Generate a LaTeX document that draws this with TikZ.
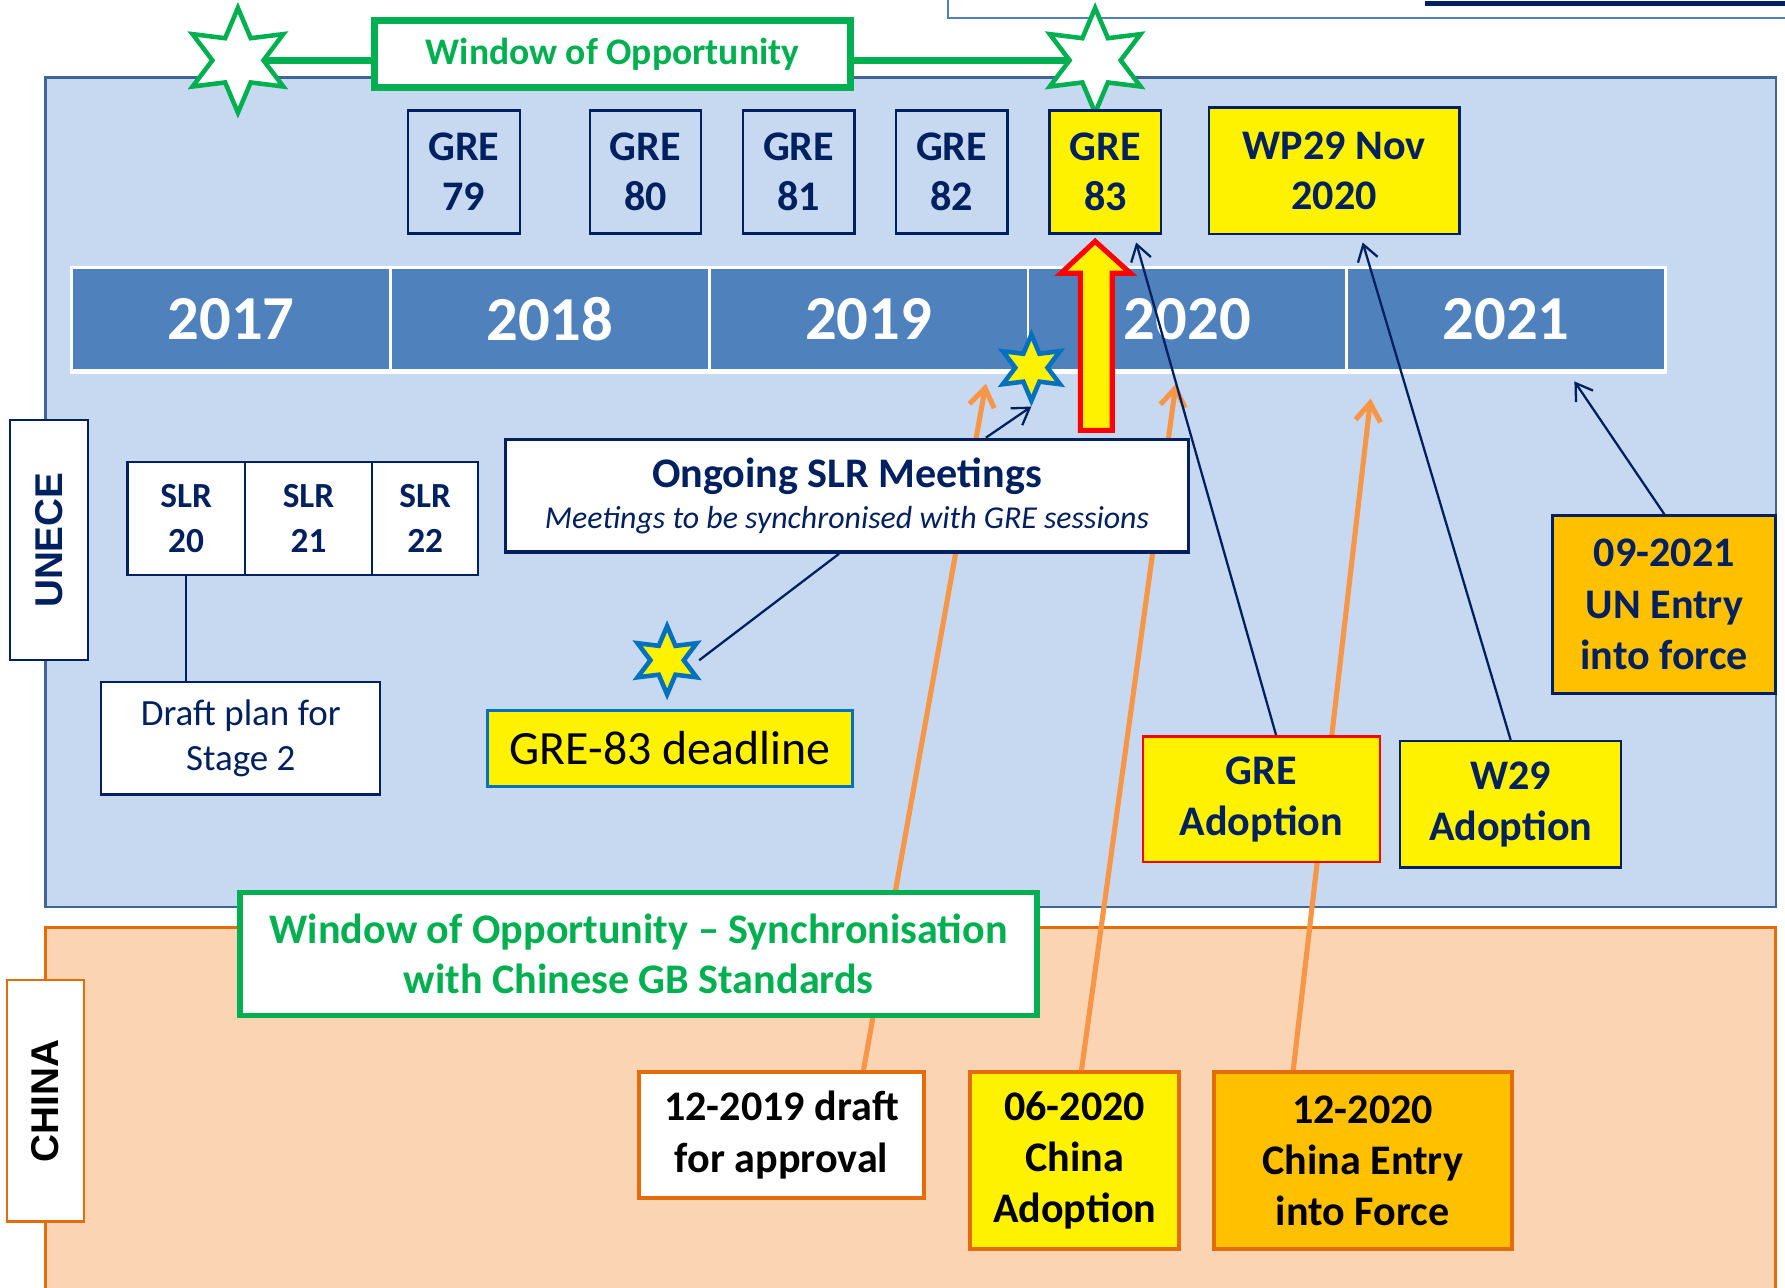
\documentclass[tikz,border=0pt]{standalone}
\usepackage{fontspec}
\setmainfont{Carlito}
\newfontfamily\sidefont{Liberation Sans}
\usetikzlibrary{shapes.geometric,arrows.meta,positioning}

\definecolor{navy}{RGB}{0,32,96}
\definecolor{paneblue}{RGB}{198,217,240}
\definecolor{paneedge}{RGB}{65,100,150}
\definecolor{yearblue}{RGB}{79,129,189}
\definecolor{peach}{RGB}{251,212,180}
\definecolor{chinaedge}{RGB}{228,108,10}
\definecolor{linkorange}{RGB}{247,150,70}
\definecolor{wingreen}{RGB}{0,176,80}
\definecolor{gold}{RGB}{255,192,0}
\definecolor{starblue}{RGB}{0,112,192}

\pgfdeclarelayer{back}
\pgfdeclarelayer{links}
\pgfsetlayers{back,links,main}

\tikzstyle{box}=[rectangle, inner sep=0pt, align=center]
\tikzstyle{gre}=[box,
    draw=navy,
    line width=2pt,
    fill=paneblue,
    text=navy,
    minimum width=98pt,
    minimum height=108pt,
    font=\bfseries\fontsize{37}{44}\selectfont]
\tikzstyle{slr}=[box, draw=navy, line width=2pt, fill=white, text=navy,
    minimum height=99pt, font=\bfseries\fontsize{31}{39}\selectfont]
\tikzstyle{adopt}=[box, draw=navy, line width=2pt, fill=yellow, text=navy,
    font=\bfseries\fontsize{37}{45}\selectfont]
\tikzstyle{china}=[box, draw=chinaedge, line width=3.5pt, text=black,
    minimum height=155pt, font=\bfseries\fontsize{37}{45}\selectfont]
\tikzstyle{yearcell}=[box, draw=white, line width=2.5pt, fill=yearblue, text=white,
    minimum width=280pt, minimum height=90pt, font=\bfseries\fontsize{55}{60}\selectfont]
\tikzstyle{window}=[box, draw=wingreen, fill=white, text=wingreen,
    font=\bfseries\fontsize{37}{44}\selectfont]
\tikzstyle{side}=[box, line width=2pt, fill=white, minimum width=68pt,
    font=\sidefont\bfseries\fontsize{34}{34}\selectfont]
\tikzstyle{hexstar}=[star, star points=6, star point ratio=2.05, inner sep=0pt, line width=4pt]
\tikzstyle{navylink}=[draw=navy, line width=2pt, -{Straight Barb[length=14pt,width=18pt]}]
\tikzstyle{orangelink}=[draw=linkorange, line width=4.5pt, -{Straight Barb[length=16pt,width=22pt]}]

\begin{document}
\begin{tikzpicture}[x=1pt, y=-1pt]
    \useasboundingbox (0,0) rectangle (1568,1131);

    % panels and year bar
    \begin{pgfonlayer}{back}
        \draw[fill=paneblue, draw=paneedge, line width=2pt] (40,68) rectangle (1560,797);
        \draw[fill=peach, draw=chinaedge, line width=2.5pt] (40,815) rectangle (1560,1145);
        \draw[fill=white, draw=yearblue, line width=2pt] (833,-10) rectangle (1572,16);
        \draw[navy, line width=4pt] (1252,3) -- (1572,3);
        \foreach \yr [count=\i from 0] in {2017,2018,2019,2020,2021}
            \node (y\yr) [yearcell] at (203+280*\i,280) {\yr};
        \draw[white, line width=5pt] (y2017.south west) -- (y2021.south east);
    \end{pgfonlayer}

    % window of opportunity
    \node (woo) [window, line width=6pt, minimum width=418pt, minimum height=59pt,
        font=\bfseries\fontsize{33}{40}\selectfont] at (538,47.5) {Window of Opportunity};
    \node (lstar) [hexstar, draw=wingreen, fill=white, minimum size=92pt] at (209,53) {};
    \node (rstar) [hexstar, draw=wingreen, fill=white, minimum size=92pt] at (962,53) {};

    % GRE sessions
    \node (gre79) [gre] at (407.5,151) {GRE\\79};
    \node (gre80) [gre] at (567,151) {GRE\\80};
    \node (gre81) [gre] at (701.5,151) {GRE\\81};
    \node (gre82) [gre] at (836,151) {GRE\\82};
    \node (gre83) [gre, fill=yellow] at (971,151) {GRE\\83};
    \node (wp29) [gre, fill=yellow, minimum width=220pt, minimum height=111pt] at (1172,150) {WP29 Nov\\2020};

    % SLR
    \node (slr20) [slr, minimum width=103pt] at (163.5,455.5) {SLR\\20};
    \node (slr21) [slr, minimum width=112pt, right=-2pt of slr20] {SLR\\21};
    \node (slr22) [slr, minimum width=93pt, right=-2pt of slr21] {SLR\\22};
    \node (plan) [box, draw=navy, line width=2pt, fill=white, text=navy, minimum width=245pt,
        minimum height=99pt, font=\fontsize{32.5}{39}\selectfont] at (211.5,648.5) {Draft plan for\\Stage 2};

    \node (ongoing) [box, draw=navy, line width=3pt, fill=white, text=navy, minimum width=600pt,
        minimum height=99pt, font=\fontsize{28}{36}\selectfont] at (744,435.5)
        {{\bfseries\fontsize{37}{36}\selectfont Ongoing SLR Meetings}\\\textit{Meetings to be synchronised with GRE sessions}};
    \node (sstar) [hexstar, draw=starblue, fill=yellow, minimum size=58pt] at (906,323) {};
    \node (dstar) [hexstar, draw=starblue, fill=yellow, minimum size=60pt] at (586,580) {};
    \node (deadline) [box, draw=starblue, line width=3pt, fill=yellow, minimum width=321pt,
        minimum height=67pt, font=\fontsize{42}{46}\selectfont] at (588.5,657.5) {GRE-83 deadline};

    \node (sync) [window, line width=5pt, minimum width=700pt, minimum height=108pt] at (561,838)
        {Window of Opportunity -- Synchronisation\\with Chinese GB Standards};

    \node (greAdopt) [adopt, draw=red, minimum width=208pt, minimum height=110pt] at (1108,702) {GRE\\Adoption};
    \node (w29) [adopt, minimum width=194pt, minimum height=111pt] at (1327,706.5) {W29\\Adoption};
    \node (unEntry) [adopt, fill=gold, line width=2.5pt, minimum width=196pt, minimum height=156pt]
        at (1462,531) {09-2021\\UN Entry\\into force};

    % China
    \node (draft) [china, fill=white, minimum width=251pt, minimum height=110pt] at (686.5,997) {12-2019 draft\\for approval};
    \node (chAdopt) [china, fill=yellow, minimum width=184pt] at (944,1019.5) {06-2020\\China\\Adoption};
    \node (chEntry) [china, fill=gold, minimum width=262pt] at (1197,1019.5) {12-2020\\China Entry\\into Force};

    % side labels
    \node (uneceTag) [side, draw=navy, text=navy, minimum height=211pt] at (43,474.5) {\rotatebox{90}{UNECE}};
    \node (chinaTag) [side, draw=chinaedge, text=black, minimum height=212pt] at (40,967) {\rotatebox{90}{CHINA}};

    % GRE-83 marker
    \draw[fill=yellow, draw=red, line width=4.5pt, line join=miter]
        (949,378) -- (949,240) -- (932,240) -- (962,212) -- (993,240) -- (977,240) -- (977,378) -- cycle;

    \coordinate (tipDraft) at (866,337);
    \coordinate (tipAdopt) at (1033,337);
    \coordinate (tipEntry) at (1204,350);
    \coordinate (tipGre) at (998,213);
    \coordinate (tipWp) at (1197,213);
    \coordinate (tipUn) at (1383,335);

    \begin{pgfonlayer}{links}
        \draw[wingreen, line width=6pt] (lstar) -- (lstar -| woo.west);
        \draw[wingreen, line width=6pt] (rstar) -- (rstar -| woo.east);
        \draw[navy, line width=2pt] (slr20.south) -- (slr20.south |- plan.north);
        \draw[navylink] ([xshift=122pt]ongoing.north) -- (sstar.south);
        \draw[navy, line width=2pt] ([xshift=-7pt]ongoing.south) -- ([xshift=11pt]dstar.east);
        \draw[orangelink] ([xshift=72pt]draft.north) -- (tipDraft);
        \draw[orangelink] ([xshift=6pt]chAdopt.north) -- (tipAdopt);
        \draw[orangelink] ([xshift=-61pt]chEntry.north) -- (tipEntry);
        \draw[navylink] ([xshift=13pt]greAdopt.north) -- (tipGre);
        \draw[navylink] (w29.north) -- (tipWp);
        \draw[navylink] (unEntry.north) -- (tipUn);
    \end{pgfonlayer}
\end{tikzpicture}
\end{document}
